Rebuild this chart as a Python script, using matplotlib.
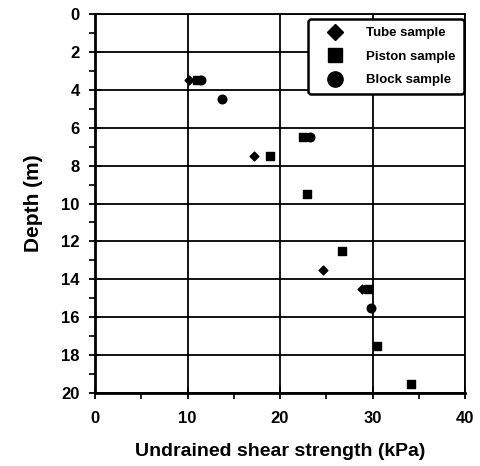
import matplotlib
matplotlib.use("Agg")
import matplotlib.pyplot as plt
from matplotlib.ticker import MultipleLocator
from matplotlib.lines import Line2D

plt.rcParams['font.family'] = ['Liberation Sans', 'DejaVu Sans']
plt.rcParams['font.weight'] = 'bold'

# Data: (undrained shear strength kPa, depth m)
tube_su = [10.2, 17.2, 24.7, 28.9]
tube_depth = [3.5, 7.5, 13.5, 14.5]
piston_su = [11.0, 18.9, 22.5, 22.9, 26.7, 29.5, 30.5, 34.2]
piston_depth = [3.5, 7.5, 6.5, 9.5, 12.5, 14.5, 17.5, 19.5]
block_su = [11.5, 13.7, 23.2, 29.8]
block_depth = [3.5, 4.5, 6.5, 15.5]

x_ticks = [0, 10, 20, 30, 40]
y_ticks = [0, 2, 4, 6, 8, 10, 12, 14, 16, 18, 20]

fig = plt.figure(figsize=(4.8, 4.66), dpi=100)
ax = fig.add_axes([95/480, 1-393/466, 370/480, 379/466])

ax.scatter(tube_su, tube_depth, marker='D', s=20, color='black', zorder=3)
ax.scatter(piston_su, piston_depth, marker='s', s=38, color='black', zorder=3)
ax.scatter(block_su, block_depth, marker='o', s=38, color='black', zorder=3)

ax.set_xlim(0, 40)
ax.set_ylim(20, 0)
ax.set_xticks(x_ticks)
ax.set_yticks(y_ticks)
ax.xaxis.set_minor_locator(MultipleLocator(5))
ax.yaxis.set_minor_locator(MultipleLocator(1))
ax.grid(True, which='major', color='black', linewidth=1.3)
ax.set_axisbelow(True)
for side, sp in ax.spines.items():
    sp.set_linewidth(1.3)
ax.spines['left'].set_linewidth(2.0)
ax.spines['bottom'].set_linewidth(2.0)

ax.tick_params(axis='both', which='major', direction='inout', length=8, width=1.3,
               labelsize=12)
ax.tick_params(axis='x', which='major', pad=9)
ax.tick_params(axis='y', which='major', pad=7)
ax.tick_params(axis='both', which='minor', direction='out', length=4, width=1.2)
for lab in ax.get_xticklabels() + ax.get_yticklabels():
    lab.set_fontweight('bold')

ax.set_xlabel('Undrained shear strength (kPa)', fontsize=14, fontweight='bold', labelpad=12)
ax.set_ylabel('Depth (m)', fontsize=15, fontweight='bold', labelpad=13)

handles = [
    Line2D([], [], linestyle='none', marker='D', markersize=8.5, color='black', label='Tube sample'),
    Line2D([], [], linestyle='none', marker='s', markersize=10.5, color='black', label='Piston sample'),
    Line2D([], [], linestyle='none', marker='o', markersize=11, color='black', label='Block sample'),
]
leg = ax.legend(handles=handles, loc='upper right', bbox_to_anchor=(1.0, 0.99), fontsize=9.5,
                frameon=True, fancybox=True, framealpha=1, edgecolor='black',
                borderpad=0.6, labelspacing=0.85, handletextpad=1.0,
                handlelength=2.8, borderaxespad=0.1)
leg.get_frame().set_linewidth(1.8)
for t in leg.get_texts():
    t.set_fontweight('bold')

fig.savefig('out.png', dpi=100)
